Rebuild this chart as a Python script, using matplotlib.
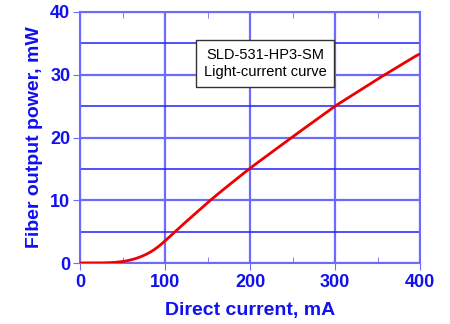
import numpy as np
import matplotlib.pyplot as plt
from matplotlib.ticker import MultipleLocator

# light-current curve
current_ma = [0, 20, 30, 40, 50, 60, 70, 80, 90, 100, 110, 120, 130, 140,
              150, 160, 175, 200, 250, 300, 350, 400]
power_mw = [0, 0, 0.02, 0.08, 0.22, 0.48, 0.9, 1.5, 2.35, 3.5, 4.75, 6.0, 7.2, 8.4,
            9.6, 10.75, 12.4, 15.1, 20.1, 25.0, 29.3, 33.4]

x_ticks = [0, 100, 200, 300, 400]
y_ticks = [0, 10, 20, 30, 40]
title_lines = ['SLD-531-HP3-SM', 'Light-current curve']

blue = '#1010f0'
light_blue = '#6b6bff'

plt.rcParams['font.family'] = ['Liberation Sans', 'DejaVu Sans']

fig = plt.figure(figsize=(4.5, 3.24), dpi=100)
ax = fig.add_axes([80 / 450, 1 - 263 / 324, 340 / 450, 251 / 324])

# smooth the sampled points a little for drawing
xs = np.linspace(0, 400, 401)
ys = np.interp(xs, current_ma, power_mw)
kern = np.ones(11) / 11
ys_s = np.convolve(np.pad(ys, 5, mode='edge'), kern, mode='valid')
ax.plot(xs, ys_s, color='#ee0000', lw=2, zorder=3)

ax.set_xlim(0, 400)
ax.set_ylim(0, 40)
ax.set_xticks(x_ticks)
ax.set_yticks(y_ticks)
ax.xaxis.set_minor_locator(MultipleLocator(50))
ax.yaxis.set_minor_locator(MultipleLocator(5))

ax.grid(which='major', color=light_blue, lw=1.6)
ax.grid(which='minor', axis='y', color='#2020ff', lw=1.1)
ax.set_axisbelow(True)

for s in ax.spines.values():
    s.set_color(light_blue)
    s.set_linewidth(1.5)

ax.tick_params(which='major', axis='y', direction='out', length=5, color=light_blue,
               labelcolor=blue, labelsize=13, pad=2)
ax.tick_params(which='major', axis='x', direction='out', length=5, color=light_blue,
               labelcolor=blue, labelsize=13, pad=3)
ax.tick_params(which='minor', axis='x', direction='in', length=4, color=light_blue,
               top=True)
ax.tick_params(which='minor', axis='y', length=0)
for lab in ax.get_xticklabels() + ax.get_yticklabels():
    lab.set_fontweight('bold')

ax.set_xlabel('Direct current, mA', color=blue, fontsize=14, fontweight='bold',
              labelpad=8)
ax.set_ylabel('Fiber output power, mW', color=blue, fontsize=14, fontweight='bold',
              labelpad=5)

ax.text(0.544, 0.795, '\n'.join(title_lines), transform=ax.transAxes,
        ha='center', va='center', fontsize=10.5, linespacing=1.3,
        bbox=dict(boxstyle='square,pad=0.55', fc='white', ec='#333333', lw=1))

fig.savefig('out.png', dpi=100)
